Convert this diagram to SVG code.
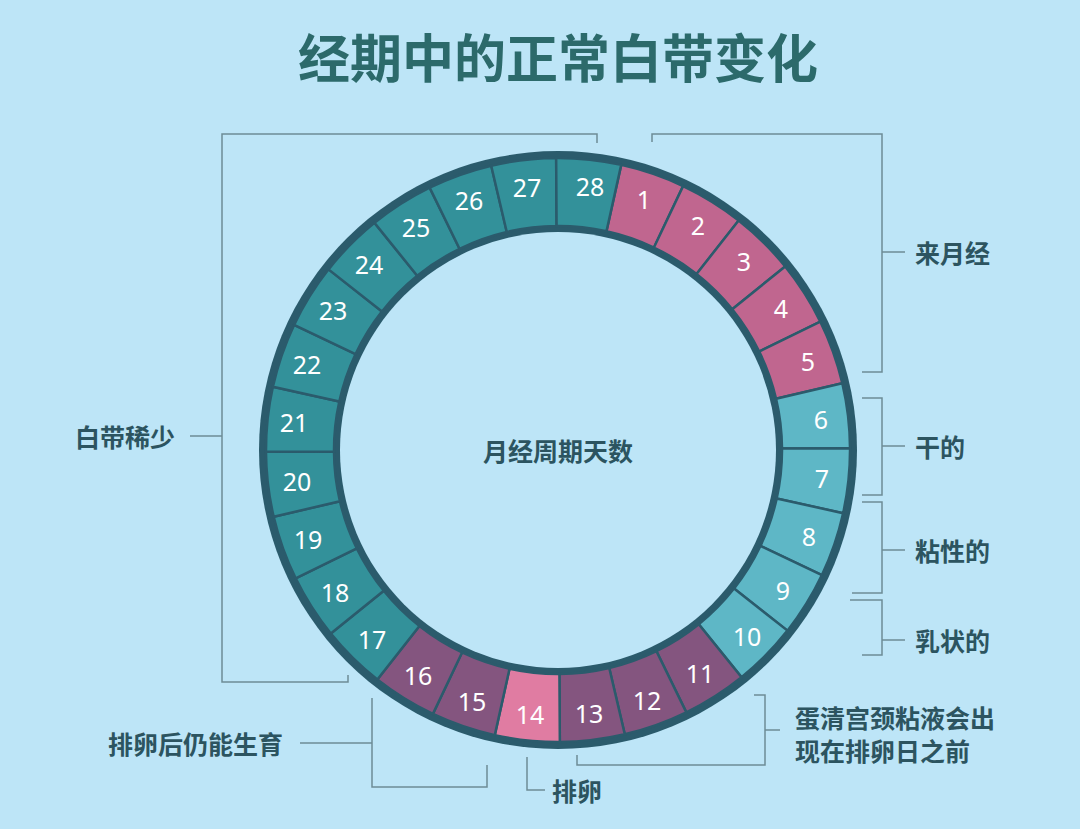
<svg xmlns="http://www.w3.org/2000/svg" width="1080" height="829" viewBox="0 0 1080 829">
<style>
.seg{stroke:#2b5b6c;stroke-width:2.5}
.t{fill:#2b7272}.n{fill:#33919a}.p{fill:#c0668f}.l{fill:#5eb7c6}.v{fill:#84557f}.h{fill:#e07ca2}
.num{font-family:"Noto Sans","Liberation Sans",sans-serif;font-size:25px;fill:#fff;text-anchor:middle;dominant-baseline:central}
.lab{font-family:"Noto Sans CJK SC",sans-serif;font-size:25px;font-weight:bold;fill:#2c5460;dominant-baseline:central}
.br{fill:none;stroke:#6d8c96;stroke-width:1.5}
</style>
<defs><path id="s" d="M525.3,159.8 A292,292 0 0 1 590.7,159.8 L583.1,227.4 A224,224 0 0 0 532.9,227.4 Z"/></defs>
<rect width="1080" height="829" fill="#bde5f7"/>
<text x="558" y="55" font-family="Noto Sans CJK SC,sans-serif" font-size="52" font-weight="bold" fill="#2c6a6b" text-anchor="middle" dominant-baseline="central">经期中的正常白带变化</text>
<circle cx="558" cy="450" r="299" fill="#2b5b6c"/>
<g id="ring">
<use href="#s" class="seg p" transform="rotate(18.93 558 450)"/>
<use href="#s" class="seg p" transform="rotate(31.79 558 450)"/>
<use href="#s" class="seg p" transform="rotate(44.64 558 450)"/>
<use href="#s" class="seg p" transform="rotate(57.5 558 450)"/>
<use href="#s" class="seg p" transform="rotate(70.36 558 450)"/>
<use href="#s" class="seg l" transform="rotate(83.21 558 450)"/>
<use href="#s" class="seg l" transform="rotate(96.07 558 450)"/>
<use href="#s" class="seg l" transform="rotate(108.93 558 450)"/>
<use href="#s" class="seg l" transform="rotate(121.79 558 450)"/>
<use href="#s" class="seg l" transform="rotate(134.64 558 450)"/>
<use href="#s" class="seg v" transform="rotate(147.5 558 450)"/>
<use href="#s" class="seg v" transform="rotate(160.36 558 450)"/>
<use href="#s" class="seg v" transform="rotate(173.21 558 450)"/>
<use href="#s" class="seg h" transform="rotate(186.07 558 450)"/>
<use href="#s" class="seg v" transform="rotate(198.93 558 450)"/>
<use href="#s" class="seg v" transform="rotate(211.79 558 450)"/>
<use href="#s" class="seg n" transform="rotate(224.64 558 450)"/>
<use href="#s" class="seg n" transform="rotate(237.5 558 450)"/>
<use href="#s" class="seg n" transform="rotate(250.36 558 450)"/>
<use href="#s" class="seg n" transform="rotate(263.21 558 450)"/>
<use href="#s" class="seg n" transform="rotate(276.07 558 450)"/>
<use href="#s" class="seg n" transform="rotate(288.93 558 450)"/>
<use href="#s" class="seg n" transform="rotate(301.79 558 450)"/>
<use href="#s" class="seg n" transform="rotate(314.64 558 450)"/>
<use href="#s" class="seg n" transform="rotate(327.5 558 450)"/>
<use href="#s" class="seg n" transform="rotate(340.36 558 450)"/>
<use href="#s" class="seg n" transform="rotate(353.21 558 450)"/>
<use href="#s" class="seg n" transform="rotate(6.07 558 450)"/>
</g>
<circle cx="558" cy="450" r="218" fill="#bde5f7"/>
<g id="nums" class="num">
<text x="644" y="199">1</text><text x="698" y="225">2</text><text x="744" y="261">3</text><text x="781" y="308">4</text><text x="808" y="361">5</text>
<text x="821" y="419">6</text><text x="822" y="478">7</text><text x="809" y="536">8</text><text x="783" y="590">9</text><text x="747" y="636">10</text>
<text x="700" y="673">11</text><text x="647" y="700">12</text><text x="589" y="713">13</text><text x="530" y="714">14</text><text x="472" y="701">15</text>
<text x="418" y="675">16</text><text x="372" y="639">17</text><text x="335" y="592">18</text><text x="308" y="539">19</text><text x="297" y="481">20</text>
<text x="294" y="422">21</text><text x="307" y="364">22</text><text x="333" y="310">23</text><text x="369" y="264">24</text><text x="416" y="227">25</text>
<text x="469" y="200">26</text><text x="527" y="187">27</text><text x="590" y="186">28</text>
</g>
<text class="lab" x="558" y="450" text-anchor="middle" font-size="28">月经周期天数</text>
<g id="connectors" class="br">
<path d="M597,143 V134 H222 V682 H348 V675 M190,436 H222"/>
<path d="M652,142 V134 H882 V372 H862 M882,252 H905"/>
<path d="M862,398 H882 V495 H862 M882,446 H905"/>
<path d="M862,502 H882 V593 H852 M882,550 H905"/>
<path d="M850,600 H882 V655 H862 M882,640 H905"/>
<path d="M754,695 H765 V765 H577 V755 M765,730 H780"/>
<path d="M372,698 V787 H487 V765 M300,743 H372"/>
<path d="M527,757 V790 H545"/>
</g>
<g id="labels" class="lab">
<text x="75" y="436">白带稀少</text>
<text x="915" y="252">来月经</text>
<text x="915" y="446">干的</text>
<text x="915" y="550">粘性的</text>
<text x="915" y="640">乳状的</text>
<text x="795" y="717">蛋清宫颈粘液会出</text>
<text x="795" y="750">现在排卵日之前</text>
<text x="108" y="743">排卵后仍能生育</text>
<text x="552" y="790">排卵</text>
</g>
</svg>
